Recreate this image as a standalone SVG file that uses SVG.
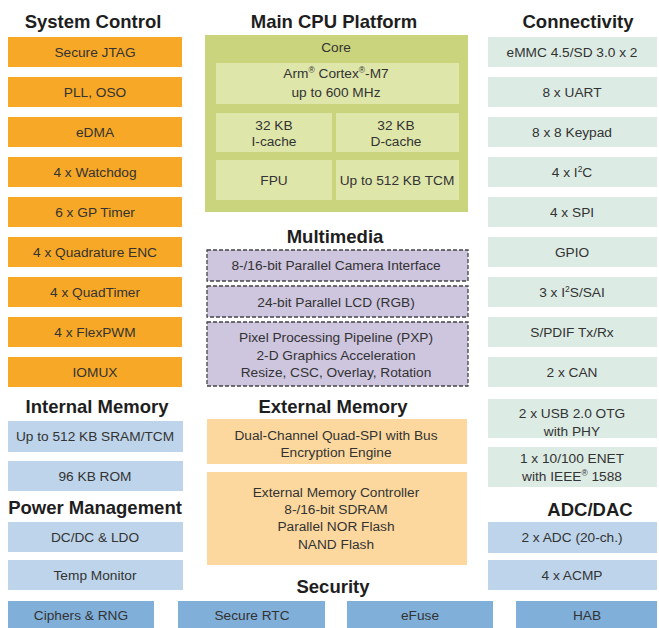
<svg xmlns="http://www.w3.org/2000/svg" width="659" height="628" viewBox="0 0 659 628">
<style>
text{font-family:"Liberation Sans",Arial,sans-serif;text-anchor:middle}
.t{font-size:18.5px;font-weight:bold;fill:#1e1e1e}
.b{font-size:13.7px;fill:#333}
.or{fill:#f6a826}
.gr{fill:#dcebe3}
.lb{fill:#bdd4ea}
.sb{fill:#80afd9}
.pe{fill:#fcd89e}
.mm{fill:#cec5df;stroke:#444;stroke-width:1.3;stroke-dasharray:4 2}
.cpu{fill:#c9d47c}
.in{fill:#dfe6aa}
.sup{font-size:8.5px}
</style>
<rect width="659" height="628" fill="#ffffff"/>
<g id="titles">
<text class="t" x="93" y="28">System Control</text>
<text class="t" x="334" y="28">Main CPU Platform</text>
<text class="t" x="578" y="28">Connectivity</text>
<text class="t" x="335" y="243">Multimedia</text>
<text class="t" x="97" y="413">Internal Memory</text>
<text class="t" x="333" y="413">External Memory</text>
<text class="t" x="95" y="514">Power Management</text>
<text class="t" x="590" y="516">ADC/DAC</text>
<text class="t" x="333" y="593">Security</text>
</g>
<g id="system-control">
<g id="sc-jtag"><rect class="or" x="8" y="37" width="174" height="30"/><text class="b" x="95" y="56.5">Secure JTAG</text></g>
<g id="sc-pll"><rect class="or" x="8" y="77" width="174" height="30"/><text class="b" x="95" y="96.5">PLL, OSO</text></g>
<g id="sc-edma"><rect class="or" x="8" y="117" width="174" height="30"/><text class="b" x="95" y="136.5">eDMA</text></g>
<g id="sc-wdog"><rect class="or" x="8" y="157" width="174" height="30"/><text class="b" x="95" y="176.5">4 x Watchdog</text></g>
<g id="sc-gpt"><rect class="or" x="8" y="197" width="174" height="30"/><text class="b" x="95" y="216.5">6 x GP Timer</text></g>
<g id="sc-enc"><rect class="or" x="8" y="237" width="174" height="30"/><text class="b" x="95" y="256.5">4 x Quadrature ENC</text></g>
<g id="sc-qtimer"><rect class="or" x="8" y="277" width="174" height="30"/><text class="b" x="95" y="296.5">4 x QuadTimer</text></g>
<g id="sc-pwm"><rect class="or" x="8" y="317" width="174" height="30"/><text class="b" x="95" y="336.5">4 x FlexPWM</text></g>
<g id="sc-iomux"><rect class="or" x="8" y="357" width="174" height="30"/><text class="b" x="95" y="376.5">IOMUX</text></g>
</g>
<g id="internal-memory">
<g id="im-sram"><rect class="lb" x="8" y="421" width="175" height="31"/><text class="b" x="95" y="441">Up to 512 KB SRAM/TCM</text></g>
<g id="im-rom"><rect class="lb" x="8" y="461" width="175" height="30"/><text class="b" x="95" y="480.5">96 KB ROM</text></g>
</g>
<g id="power-management">
<g id="pm-dcdc"><rect class="lb" x="8" y="522" width="175" height="30"/><text class="b" x="95" y="541.5">DC/DC &amp; LDO</text></g>
<g id="pm-temp"><rect class="lb" x="8" y="560" width="175" height="30"/><text class="b" x="95" y="579.5">Temp Monitor</text></g>
</g>
<g id="cpu">
<rect class="cpu" x="205" y="35" width="263" height="177"/>
<text class="b" x="336" y="52">Core</text>
<g id="cpu-arm"><rect class="in" x="216" y="63" width="243" height="41"/>
<text class="b" x="336" y="78">Arm<tspan class="sup" dy="-5">®</tspan><tspan dy="5"> Cortex</tspan><tspan class="sup" dy="-5">®</tspan><tspan dy="5">-M7</tspan></text>
<text class="b" x="336" y="97">up to 600 MHz</text></g>
<g id="cpu-icache"><rect class="in" x="216" y="113" width="116" height="39"/><text class="b" x="274" y="130">32 KB</text><text class="b" x="274" y="146">I-cache</text></g>
<g id="cpu-dcache"><rect class="in" x="336" y="113" width="123" height="39"/><text class="b" x="396" y="130">32 KB</text><text class="b" x="396" y="146">D-cache</text></g>
<g id="cpu-fpu"><rect class="in" x="216" y="160" width="116" height="40"/><text class="b" x="274" y="185">FPU</text></g>
<g id="cpu-tcm"><rect class="in" x="336" y="160" width="123" height="40"/><text class="b" x="397" y="185">Up to 512 KB TCM</text></g>
</g>
<g id="multimedia">
<g id="mm-csi"><rect class="mm" x="207" y="250" width="261" height="31"/><text class="b" x="336" y="270">8-/16-bit Parallel Camera Interface</text></g>
<g id="mm-lcd"><rect class="mm" x="207" y="286" width="261" height="31"/><text class="b" x="336" y="307">24-bit Parallel LCD (RGB)</text></g>
<g id="mm-pxp"><rect class="mm" x="207" y="322" width="261" height="64"/>
<text class="b" x="336" y="342">Pixel Processing Pipeline (PXP)</text>
<text class="b" x="336" y="360">2-D Graphics Acceleration</text>
<text class="b" x="336" y="377">Resize, CSC, Overlay, Rotation</text></g>
</g>
<g id="external-memory">
<g id="em-qspi"><rect class="pe" x="207" y="419" width="260" height="45"/>
<text class="b" x="336" y="440">Dual-Channel Quad-SPI with Bus</text>
<text class="b" x="336" y="457">Encryption Engine</text></g>
<g id="em-emc"><rect class="pe" x="207" y="472" width="260" height="93"/>
<text class="b" x="336" y="497">External Memory Controller</text>
<text class="b" x="336" y="514">8-/16-bit SDRAM</text>
<text class="b" x="336" y="531">Parallel NOR Flash</text>
<text class="b" x="336" y="549">NAND Flash</text></g>
</g>
<g id="connectivity">
<g id="cn-emmc"><rect class="gr" x="488" y="37" width="169" height="30"/><text class="b" x="572" y="56.5">eMMC 4.5/SD 3.0 x 2</text></g>
<g id="cn-uart"><rect class="gr" x="488" y="77" width="169" height="30"/><text class="b" x="572" y="96.5">8 x UART</text></g>
<g id="cn-kpp"><rect class="gr" x="488" y="117" width="169" height="30"/><text class="b" x="572" y="136.5">8 x 8 Keypad</text></g>
<g id="cn-i2c"><rect class="gr" x="488" y="157" width="169" height="30"/><text class="b" x="572" y="176.5">4 x I<tspan class="sup" dy="-5">2</tspan><tspan dy="5">C</tspan></text></g>
<g id="cn-spi"><rect class="gr" x="488" y="197" width="169" height="30"/><text class="b" x="572" y="216.5">4 x SPI</text></g>
<g id="cn-gpio"><rect class="gr" x="488" y="237" width="169" height="30"/><text class="b" x="572" y="256.5">GPIO</text></g>
<g id="cn-sai"><rect class="gr" x="488" y="277" width="169" height="30"/><text class="b" x="572" y="296.5">3 x I<tspan class="sup" dy="-5">2</tspan><tspan dy="5">S/SAI</tspan></text></g>
<g id="cn-spdif"><rect class="gr" x="488" y="317" width="169" height="30"/><text class="b" x="572" y="336.5">S/PDIF Tx/Rx</text></g>
<g id="cn-can"><rect class="gr" x="488" y="357" width="169" height="30"/><text class="b" x="572" y="376.5">2 x CAN</text></g>
<g id="cn-usb"><rect class="gr" x="488" y="399" width="169" height="39"/><text class="b" x="572" y="418">2 x USB 2.0 OTG</text><text class="b" x="572" y="436">with PHY</text></g>
<g id="cn-enet"><rect class="gr" x="488" y="447" width="169" height="40"/><text class="b" x="572" y="463">1 x 10/100 ENET</text><text class="b" x="572" y="481">with IEEE<tspan class="sup" dy="-5">®</tspan><tspan dy="5"> 1588</tspan></text></g>
</g>
<g id="adc-dac">
<g id="ad-adc"><rect class="lb" x="488" y="522" width="169" height="31"/><text class="b" x="572" y="542">2 x ADC (20-ch.)</text></g>
<g id="ad-acmp"><rect class="lb" x="488" y="560" width="169" height="30"/><text class="b" x="572" y="579.5">4 x ACMP</text></g>
</g>
<g id="security">
<g id="se-rng"><rect class="sb" x="8" y="601" width="146" height="27"/><text class="b" x="81" y="620">Ciphers &amp; RNG</text></g>
<g id="se-rtc"><rect class="sb" x="178" y="601" width="147" height="27"/><text class="b" x="252" y="620">Secure RTC</text></g>
<g id="se-efuse"><rect class="sb" x="347" y="601" width="146" height="27"/><text class="b" x="420" y="620">eFuse</text></g>
<g id="se-hab"><rect class="sb" x="516" y="601" width="141" height="27"/><text class="b" x="587" y="620">HAB</text></g>
</g>
<g id="connectors"/>
</svg>
